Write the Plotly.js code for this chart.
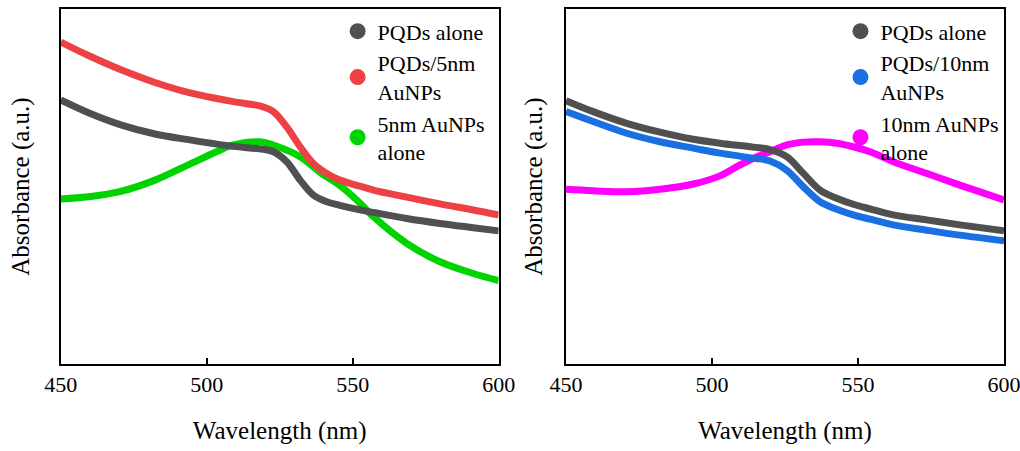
<!DOCTYPE html>
<html>
<head>
<meta charset="utf-8">
<script src="https://cdn.plot.ly/plotly-3.0.1.min.js"></script>
<style>html,body{margin:0;padding:0;background:#fff;}#chart{width:1020px;height:451px;}</style>
</head>
<body>
<div id="chart"></div>
<script>
// Left panel: wavelengths (nm) and absorbance (a.u., relative)
const leftRedX = [450, 459.5, 470.9, 482.3, 493.7, 509.1, 518.2, 522.8, 527.4, 532, 536.5, 541.1, 545.6, 552.5, 557.1, 568.5, 579.9, 591.3, 600];
const leftRedY = [0.907, 0.869, 0.828, 0.793, 0.765, 0.739, 0.727, 0.711, 0.668, 0.612, 0.565, 0.537, 0.518, 0.501, 0.490, 0.470, 0.451, 0.434, 0.420];
const leftGrayX = [450, 459.5, 470.9, 482.3, 493.7, 509.1, 518.2, 522.8, 527.4, 532, 536.5, 541.1, 545.6, 552.5, 557.1, 568.5, 579.9, 591.3, 600];
const leftGrayY = [0.744, 0.708, 0.673, 0.648, 0.632, 0.613, 0.606, 0.598, 0.570, 0.518, 0.476, 0.457, 0.447, 0.434, 0.427, 0.410, 0.396, 0.384, 0.375];
const leftGreenX = [450, 459.5, 470.9, 482.3, 493.7, 503.4, 509.1, 518.2, 524.4, 532, 539.3, 545.6, 551.4, 557.1, 568.5, 579.9, 591.3, 600];
const leftGreenY = [0.465, 0.471, 0.487, 0.518, 0.561, 0.598, 0.617, 0.626, 0.612, 0.584, 0.537, 0.503, 0.462, 0.415, 0.340, 0.288, 0.255, 0.235];

// Right panel
const rightX = [450, 459.3, 470.8, 482.2, 493.6, 502.7, 514.1, 519.9, 525.6, 531.3, 537, 542.7, 548.4, 554.1, 562.1, 573.5, 584.9, 600];
const rightGrayY = [0.742, 0.711, 0.678, 0.653, 0.633, 0.622, 0.611, 0.604, 0.584, 0.537, 0.490, 0.467, 0.450, 0.437, 0.420, 0.406, 0.392, 0.375];
const rightBlueY = [0.711, 0.683, 0.650, 0.626, 0.608, 0.594, 0.580, 0.572, 0.546, 0.499, 0.457, 0.436, 0.420, 0.408, 0.392, 0.377, 0.363, 0.347];
const rightMagX = [450, 459.3, 470.8, 482.2, 493.6, 502.7, 508.5, 514.1, 519.9, 525.6, 531.3, 537, 542.7, 548.4, 554.1, 562.1, 573.5, 584.9, 600];
const rightMagY = [0.492, 0.488, 0.485, 0.492, 0.507, 0.530, 0.556, 0.579, 0.598, 0.617, 0.625, 0.626, 0.622, 0.612, 0.598, 0.570, 0.537, 0.504, 0.462];

const xTicks = [450, 500, 550, 600];
const leftNames = ['PQDs alone', 'PQDs/5nm<br>AuNPs', '5nm AuNPs<br>alone'];
const rightNames = ['PQDs alone', 'PQDs/10nm<br>AuNPs', '10nm AuNPs<br>alone'];

const GRAY = '#505050', RED = '#ec4245', GREEN = '#00d300', BLUE = '#1a6fe3', MAG = '#ff00ff';
const LW = 7;

function line(x, y, color, xa, ya) {
  return {x, y, xaxis: xa, yaxis: ya, type: 'scatter', mode: 'lines',
    line: {color, width: LW, shape: 'spline', smoothing: 1}, showlegend: false, hoverinfo: 'skip'};
}
function leg(name, color, xa, ya, lg) {
  return {x: [null], y: [null], xaxis: xa, yaxis: ya, type: 'scatter', mode: 'markers', name,
    marker: {color, size: 16, symbol: 'circle'}, legend: lg, showlegend: true};
}

const data = [
  line(leftGreenX, leftGreenY, GREEN, 'x', 'y'),
  line(leftGrayX, leftGrayY, GRAY, 'x', 'y'),
  line(leftRedX, leftRedY, RED, 'x', 'y'),
  line(rightMagX, rightMagY, MAG, 'x2', 'y2'),
  line(rightX, rightBlueY, BLUE, 'x2', 'y2'),
  line(rightX, rightGrayY, GRAY, 'x2', 'y2'),
  leg(leftNames[0], GRAY, 'x', 'y', 'legend'),
  leg(leftNames[1], RED, 'x', 'y', 'legend'),
  leg(leftNames[2], GREEN, 'x', 'y', 'legend'),
  leg(rightNames[0], GRAY, 'x2', 'y2', 'legend2'),
  leg(rightNames[1], BLUE, 'x2', 'y2', 'legend2'),
  leg(rightNames[2], MAG, 'x2', 'y2', 'legend2')
];

const FONT = 'Liberation Serif';
function xax(domain) {
  return {domain, range: [450, 600], tickvals: xTicks, ticktext: xTicks.map(String),
    ticks: 'inside', ticklen: 6, tickwidth: 2, tickcolor: '#000', ticklabeloverflow: 'allow',
    showline: true, linewidth: 2, linecolor: '#000', mirror: true,
    showgrid: false, zeroline: false, tickfont: {family: FONT, size: 22, color: '#000'},
    title: {text: 'Wavelength (nm)', font: {family: FONT, size: 25, color: '#000'}, standoff: 25}};
}
function yax(anchor, standoff) {
  return {domain: [0.1929, 0.98], range: [0, 1], anchor, showticklabels: false, ticks: '',
    showline: true, linewidth: 2, linecolor: '#000', mirror: true, showgrid: false, zeroline: false,
    title: {text: 'Absorbance (a.u.)', font: {family: FONT, size: 25, color: '#000'}, standoff}};
}
const legBase = {font: {family: FONT, size: 22, color: '#000'}, bgcolor: 'rgba(0,0,0,0)',
  borderwidth: 0, xanchor: 'left', yanchor: 'top', tracegroupgap: 0, itemsizing: 'trace'};

const layout = {
  width: 1020, height: 451, paper_bgcolor: '#fff', plot_bgcolor: '#fff',
  margin: {l: 0, r: 0, t: 0, b: 0},
  font: {family: FONT, color: '#000'},
  xaxis: Object.assign(xax([0.0595, 0.4889]), {anchor: 'y'}),
  yaxis: yax('x', 22),
  xaxis2: Object.assign(xax([0.5549, 0.9843]), {anchor: 'y2'}),
  yaxis2: yax('x2', 14),
  legend: Object.assign({}, legBase, {x: 0.331, y: 0.977}),
  legend2: Object.assign({}, legBase, {x: 0.824, y: 0.977}),
  showlegend: true
};

Plotly.newPlot('chart', data, layout, {displayModeBar: false, staticPlot: true});
</script>
</body>
</html>
